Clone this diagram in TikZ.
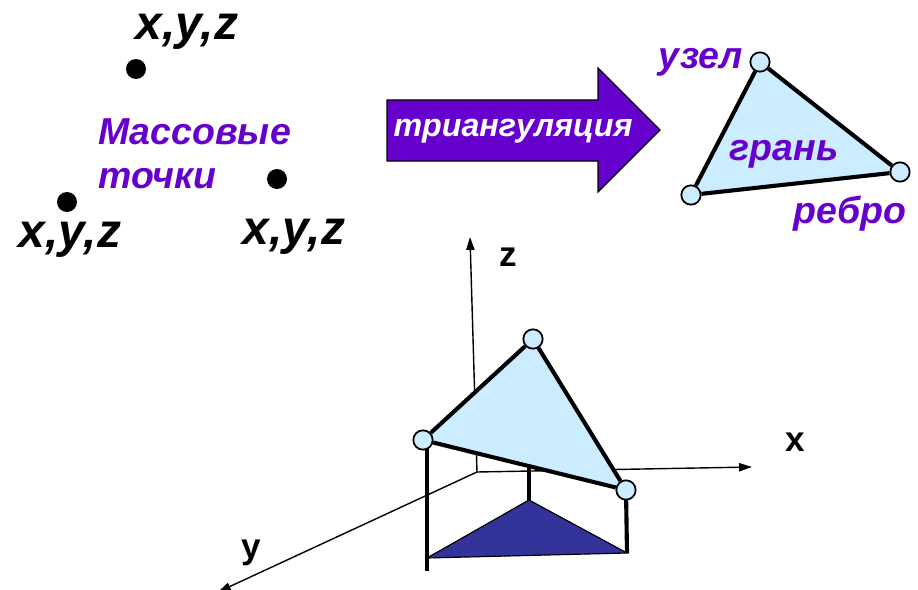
\documentclass[tikz,border=0pt]{standalone}
\usepackage{fontspec}
\setmainfont{Liberation Sans}
\usetikzlibrary{arrows.meta,positioning}
\definecolor{violet}{HTML}{6600CC}
\definecolor{sky}{HTML}{CCECFF}
\definecolor{indigo}{HTML}{333399}

\begin{document}
\begin{tikzpicture}[x=0.03cm,y=-0.03cm,
    term/.style={text=violet,inner sep=0pt,font=\fontsize{32}{38}\selectfont\bfseries\itshape},
    coord/.style={inner sep=0pt,font=\fontsize{41}{44}\selectfont\bfseries\itshape},
    axlabel/.style={inner sep=0pt,font=\fontsize{30}{32}\selectfont\bfseries},
    mass/.style={circle,fill=black,inner sep=0pt,minimum size=0.6cm},
    knot/.style={circle,draw=black,line width=1.5pt,fill=sky,inner sep=0pt,minimum size=0.58cm},
    rib/.style={line width=3.5pt},
    axis/.style={-{Triangle[length=11pt,width=7pt]},line width=1.2pt}]
  \useasboundingbox (0,0) rectangle (918,590);

  \node[coord] (c1) at (187,32)  {x,y,z};
  \node[coord] (c2) at (70,240)  {x,y,z};
  \node[coord] (c3) at (294,237) {x,y,z};
  \node[mass] (m1) at (136,69)  {};
  \node[mass] (m2) at (67,202)  {};
  \node[mass] (m3) at (277,179) {};
  \node[term,anchor=west,align=left] (lab) at (98,154) {Массовые\\точки};

  \draw[line width=1pt,fill=violet] (387,100) -- (598,100) -- (598,68) -- (660,130)
       -- (598,192) -- (598,161) -- (387,161) -- cycle;
  \node[text=white,inner sep=0pt,font=\fontsize{27.5}{30}\selectfont\bfseries\itshape] (tri) at (513,131) {триангуляция};

  \coordinate (a1) at (760,62);
  \coordinate (a2) at (900,172);
  \coordinate (a3) at (691,195);
  \fill[sky] (a1) -- (a2) -- (a3) -- cycle;
  \foreach \n in {1,2,3} \node[knot] (k\n) at (a\n) {};
  \foreach \a/\b in {k1/k2,k2/k3,k3/k1} \draw[rib] (\a) -- (\b);
  \node[term] (uz) at (701,62)  {узел};
  \node[term] (gr) at (784,154) {грань};
  \node[term] (re) at (850,214) {ребро};

  % axes
  \coordinate (o) at (477,472);
  \coordinate (zend) at (470,237);
  \coordinate (xend) at (752,467);
  \coordinate (yend) at (218,592);
  \draw[axis] (o) -- (zend);
  \draw[axis] (o) -- (xend);
  \draw[axis] (o) -- (yend);
  \node[axlabel] (zl) at (508,257) {z};
  \node[axlabel] (xl) at (795,442) {x};
  \node[axlabel] (yl) at (251,553) {y};

  % shadow on the floor
  \coordinate (b1) at (427,558);
  \coordinate (b2) at (529,500);
  \coordinate (b3) at (627,553);
  \fill[indigo,draw=black,line width=1pt] (b1) -- (b2) -- (b3) -- cycle;
  \coordinate (b0) at (427,571);
  \coordinate (p1) at (427,440);
  \coordinate (p2) at (529,460);

  \coordinate (t1) at (423,440);
  \coordinate (t2) at (533,339);
  \coordinate (t3) at (626,490);
  \draw[rib] (p1) -- (b0);
  \draw[rib] (p2) -- (b2);
  \draw[rib] (t3) -- (b3);
  \fill[sky] (t1) -- (t2) -- (t3) -- cycle;
  \foreach \n in {1,2,3} \node[knot] (s\n) at (t\n) {};
  \foreach \a/\b in {s1/s2,s2/s3,s3/s1} \draw[rib] (\a) -- (\b);
\end{tikzpicture}
\end{document}
